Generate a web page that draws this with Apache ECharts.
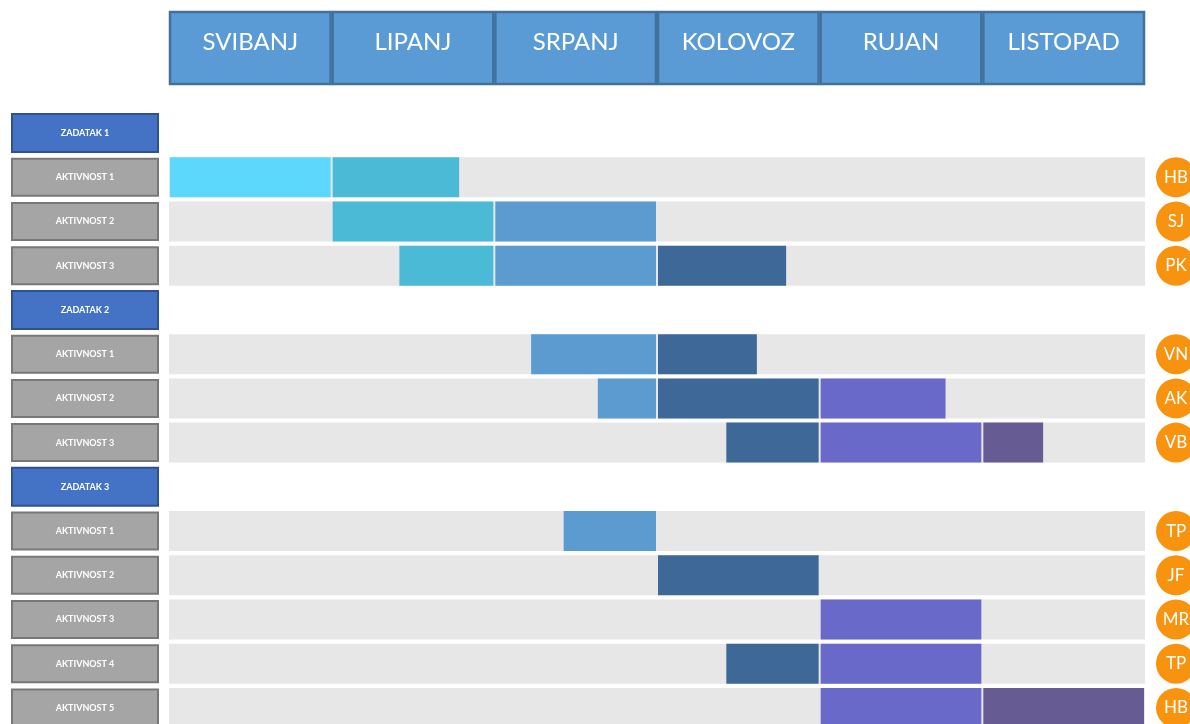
<!DOCTYPE html>
<html>
<head>
<meta charset="utf-8">
<script src="https://cdn.jsdelivr.net/npm/echarts@6/dist/echarts.min.js"></script>
<style>html,body{margin:0;padding:0;background:#fff;}#c{width:1190px;height:724px;}</style>
</head>
<body>
<div id="c"></div>
<script>
// ---- data ----
const months = ['SVIBANJ', 'LIPANJ', 'SRPANJ', 'KOLOVOZ', 'RUJAN', 'LISTOPAD'];
const rowLabels = ['ZADATAK 1', 'AKTIVNOST 1', 'AKTIVNOST 2', 'AKTIVNOST 3',
  'ZADATAK 2', 'AKTIVNOST 1', 'AKTIVNOST 2', 'AKTIVNOST 3',
  'ZADATAK 3', 'AKTIVNOST 1', 'AKTIVNOST 2', 'AKTIVNOST 3', 'AKTIVNOST 4', 'AKTIVNOST 5'];
const rowKinds = ['task', 'act', 'act', 'act', 'task', 'act', 'act', 'act', 'task', 'act', 'act', 'act', 'act', 'act'];
const owners = ['', 'HB', 'SJ', 'PK', '', 'VN', 'AK', 'VB', '', 'TP', 'JF', 'MR', 'TP', 'HB'];
// segments: [row, startMonth, endMonth]
const segments = [
  [1, 0, 1], [1, 1, 1.79],
  [2, 1, 2], [2, 2, 3],
  [3, 1.41, 2], [3, 2, 3], [3, 3, 3.8],
  [5, 2.22, 3], [5, 3, 3.62],
  [6, 2.63, 3], [6, 3, 4], [6, 4, 4.78],
  [7, 3.42, 4], [7, 4, 5], [7, 5, 5.38],
  [9, 2.42, 3],
  [10, 3, 4],
  [11, 4, 5],
  [12, 3.42, 4], [12, 4, 5],
  [13, 4, 5], [13, 5, 6]
];
const monthColors = ['#5bd8fc', '#4bbad7', '#5b9bd0', '#3d6897', '#6869c8', '#675b93'];

const FONT = 'Lato';
const rowIds = rowLabels.map((_, i) => String(i));
const bgData = rowKinds.map((k, i) => k === 'act' ? [i, 0, months.length] : null).filter(Boolean);
const segData = segments.map(s => [s[0], s[1], s[2], Math.floor(s[1] + 1e-6)]);

const chart = echarts.init(document.getElementById('c'));
chart.setOption({
  animation: false,
  backgroundColor: '#ffffff',
  grid: [
    { left: 169, width: 976, top: 111, height: 619, outerBoundsMode: 'none', containLabel: false },
    { left: 169, width: 976, top: 11, height: 74, outerBoundsMode: 'none', containLabel: false }
  ],
  xAxis: [
    { type: 'value', gridIndex: 0, min: 0, max: months.length, show: false },
    { type: 'value', gridIndex: 1, min: 0, max: months.length, show: false }
  ],
  yAxis: [
    {
      type: 'category', gridIndex: 0, data: rowIds, inverse: true,
      axisLine: { show: false }, axisTick: { show: false }, splitLine: { show: false },
      axisLabel: {
        margin: 12,
        formatter: (v, i) => '{' + rowKinds[i] + '|' + rowLabels[i] + '}',
        rich: {
          task: {
            width: 144, height: 36, align: 'center', verticalAlign: 'middle',
            backgroundColor: '#4472c4', borderColor: '#2f528f', borderWidth: 2,
            color: '#ffffff', fontSize: 9, fontWeight: 'bold', fontFamily: FONT
          },
          act: {
            width: 144, height: 35, align: 'center', verticalAlign: 'middle',
            backgroundColor: '#a5a5a5', borderColor: '#787878', borderWidth: 2,
            color: '#ffffff', fontSize: 9, fontWeight: 'bold', fontFamily: FONT
          }
        }
      }
    },
    {
      type: 'category', gridIndex: 0, data: rowIds, inverse: true, position: 'right',
      axisLine: { show: false }, axisTick: { show: false }, splitLine: { show: false },
      axisLabel: {
        margin: 11,
        formatter: (v, i) => owners[i] ? '{c|' + owners[i] + '}' : '',
        rich: {
          c: {
            width: 40, height: 40, borderRadius: 20, align: 'center', verticalAlign: 'middle',
            backgroundColor: '#f7930f', color: '#ffffff', fontSize: 17, fontFamily: FONT
          }
        }
      }
    },
    { type: 'value', gridIndex: 1, min: 0, max: 1, show: false }
  ],
  series: [
    {
      type: 'custom', xAxisIndex: 0, yAxisIndex: 0, data: bgData,
      renderItem: (params, api) => {
        const p0 = api.coord([api.value(1), api.value(0)]);
        const p1 = api.coord([api.value(2), api.value(0)]);
        const h = api.size([0, 1])[1] * 0.905;
        return { type: 'rect', shape: { x: p0[0], y: p0[1] - h / 2, width: p1[0] - p0[0], height: h },
          style: { fill: '#e7e7e7' } };
      }
    },
    {
      type: 'custom', xAxisIndex: 0, yAxisIndex: 0, data: segData,
      renderItem: (params, api) => {
        const p0 = api.coord([api.value(1), api.value(0)]);
        const p1 = api.coord([api.value(2), api.value(0)]);
        const h = api.size([0, 1])[1] * 0.905;
        return { type: 'rect', shape: { x: p0[0] + 1, y: p0[1] - h / 2, width: p1[0] - p0[0] - 2, height: h },
          style: { fill: monthColors[api.value(3)] } };
      }
    },
    {
      type: 'custom', xAxisIndex: 1, yAxisIndex: 2, data: months.map((m, i) => [i, m]),
      renderItem: (params, api) => {
        const i = api.value(0);
        const p0 = api.coord([i, 1]);
        const p1 = api.coord([i + 1, 0]);
        return {
          type: 'group',
          children: [
            { type: 'rect', shape: { x: p0[0] + 1, y: p0[1] + 1, width: p1[0] - p0[0] - 2, height: p1[1] - p0[1] - 2 },
              style: { fill: '#5b9bd5', stroke: '#41719c', lineWidth: 2.5 } },
            { type: 'text', x: (p0[0] + p1[0]) / 2, y: p0[1] + 31,
              style: { text: months[i], fill: '#ffffff', fontSize: 24, fontFamily: FONT,
                align: 'center', verticalAlign: 'middle' } }
          ]
        };
      }
    }
  ]
});
</script>
</body>
</html>
